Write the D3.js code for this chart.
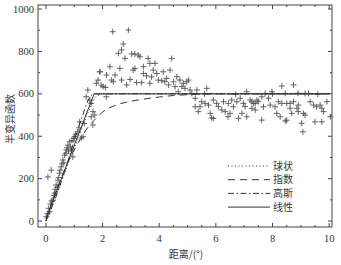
<!DOCTYPE html>
<html>
<head>
<meta charset="utf-8">
<script src="https://cdn.jsdelivr.net/npm/d3@7"></script>
<style>
  body { margin: 0; background: #fff; }
  svg text { fill: #333; }
</style>
</head>
<body>
<div id="chart"></div>
<script>
// observed semivariance (distance, value)
const points = [
  [0.01,20],[0.07,208],[0.19,240],[0.05,35],[0.1,60],[0.13,44],[0.16,80],[0.2,95],[0.25,99],[0.28,120],
  [0.3,132],[0.33,150],[0.36,170],[0.4,160],[0.42,193],[0.45,205],[0.48,226],[0.5,240],[0.54,256],[0.57,270],
  [0.6,288],[0.63,275],[0.66,311],[0.7,320],[0.72,335],[0.75,345],[0.78,358],[0.8,330],[0.84,374],[0.87,350],
  [0.9,335],[0.92,380],[0.95,303],[0.98,390],[1.01,398],[1.05,410],[1.13,421],[1.17,440],[1.19,468],[1.25,392],
  [1.31,398],[1.35,460],[1.42,586],[1.48,618],[1.55,570],[1.6,555],[1.6,492],[1.66,516],[1.66,453],[1.72,500],
  [1.78,650],[1.84,665],[1.9,704],[1.91,704],[1.95,641],[2.02,634],[2.1,630],[2.13,586],[2.14,689],[2.26,728],
  [2.32,665],[2.36,893],[2.38,657],[2.44,689],[2.56,791],[2.61,720],[2.67,807],[2.67,665],[2.73,835],[2.79,767],
  [2.85,642],[2.91,901],[2.97,668],[3.03,788],[3.08,712],[3.14,788],[3.14,720],[3.2,653],[3.26,783],[3.32,775],
  [3.38,653],[3.44,728],[3.44,696],[3.55,685],[3.61,767],[3.67,744],[3.67,650],[3.73,680],[3.79,712],[3.85,744],
  [3.91,696],[3.97,665],[4.09,662],[4.14,704],[4.2,657],[4.26,673],[4.33,642],[4.38,712],[4.44,767],[4.5,657],
  [4.56,634],[4.62,681],[4.67,610],[4.73,665],[4.8,634],[4.85,650],[4.91,626],[4.97,657],[5.03,665],[5.09,618],
  [5.15,602],[5.27,579],[5.27,539],[5.33,618],[5.38,516],[5.44,539],[5.5,563],[5.62,555],[5.68,626],[5.74,547],
  [5.8,508],[5.85,487],[5.91,571],[5.91,484],[6.03,555],[6.09,540],[6.21,524],[6.27,563],[6.33,516],[6.43,492],
  [6.44,555],[6.5,508],[6.56,571],[6.62,539],[6.74,563],[6.8,484],[6.86,579],[6.92,508],[6.97,555],[7.03,540],
  [7.09,610],[7.09,492],[7.21,571],[7.27,532],[7.27,563],[7.33,555],[7.39,555],[7.39,524],[7.45,571],[7.5,563],
  [7.62,586],[7.62,476],[7.68,539],[7.74,602],[7.86,579],[7.92,547],[7.98,610],[8.09,539],[8.15,508],[8.21,563],
  [8.27,492],[8.33,637],[8.33,555],[8.45,602],[8.45,472],[8.5,555],[8.5,476],[8.62,555],[8.62,532],[8.68,508],
  [8.74,642],[8.74,563],[8.86,532],[8.91,547],[8.91,516],[9.03,461],[9.07,421],[9.09,508],[9.15,500],[9.15,602],
  [9.27,602],[9.33,563],[9.45,547],[9.5,468],[9.56,539],[9.68,547],[9.74,532],[9.74,468],[9.8,516],[9.92,563],
  [10.04,492],[5.6,600],[6.7,598],[8.0,600],[8.9,603],[9.6,598]
];

// fitted models
const spherical = [[0,0],[0.5,170],[1,345],[1.5,515],[1.8,590],[2.1,600],[10,600]];
const exponential = [[0,0],[0.25,100],[0.5,190],[0.75,270],[1,335],[1.25,395],[1.5,445],[1.75,482],[2,514],
  [2.5,548],[3,565],[3.5,576],[4,585],[4.5,592],[5,596],[6,600],[10,600]];
const gaussian = [[0,0],[0.3,95],[0.7,250],[1,380],[1.3,500],[1.55,585],[1.7,600],[10,600]];
const linear = [[0,10],[1.7,600],[10,600]];

const models = [
  { name: "球状", data: spherical, dash: "1,2.5", curve: d3.curveMonotoneX },
  { name: "指数", data: exponential, dash: "7,5", curve: d3.curveMonotoneX },
  { name: "高斯", data: gaussian, dash: "6,2.5,1.5,2.5", curve: d3.curveMonotoneX },
  { name: "线性", data: linear, dash: null, curve: d3.curveLinear }
];

const xTicks = [0, 2, 4, 6, 8, 10];
const yTicks = [0, 200, 400, 600, 800, 1000];

const W = 341, H = 265;
const m = { left: 38, right: 332, top: 5, bottom: 227 };

const svg = d3.select("#chart").append("svg")
  .attr("width", W).attr("height", H);

const x = d3.scaleLinear().domain([-0.28, 10.1]).range([m.left, m.right]);
const y = d3.scaleLinear().domain([-28, 1019]).range([m.bottom, m.top]);

// frame
svg.append("rect")
  .attr("x", m.left).attr("y", m.top)
  .attr("width", m.right - m.left).attr("height", m.bottom - m.top)
  .attr("fill", "none").attr("stroke", "#444").attr("stroke-width", 1);

// inward ticks on all sides
const xMinor = d3.range(0, 10.01, 0.5);
const yMinor = d3.range(0, 1001, 100);
const tk = svg.append("g").attr("stroke", "#444").attr("stroke-width", 1);
xMinor.forEach(v => {
  const len = xTicks.includes(v) ? 4 : 2;
  tk.append("line").attr("x1", x(v)).attr("x2", x(v)).attr("y1", m.bottom).attr("y2", m.bottom - len);
  tk.append("line").attr("x1", x(v)).attr("x2", x(v)).attr("y1", m.top).attr("y2", m.top + len);
});
yMinor.forEach(v => {
  const len = yTicks.includes(v) ? 4 : 2;
  tk.append("line").attr("y1", y(v)).attr("y2", y(v)).attr("x1", m.left).attr("x2", m.left + len);
  tk.append("line").attr("y1", y(v)).attr("y2", y(v)).attr("x1", m.right).attr("x2", m.right - len);
});

// tick labels
svg.append("g").selectAll("text").data(xTicks).join("text")
  .attr("x", d => x(d)).attr("y", 242)
  .attr("text-anchor", "middle")
  .style("font", "10.5px 'Liberation Serif'")
  .text(d => d);
svg.append("g").selectAll("text").data(yTicks).join("text")
  .attr("x", 34).attr("y", d => y(d) + 3.5)
  .attr("text-anchor", "end")
  .style("font", "10.5px 'Liberation Serif'")
  .text(d => d);

// axis titles
svg.append("text")
  .attr("x", 186).attr("y", 258)
  .attr("text-anchor", "middle")
  .style("font", "10px 'Noto Sans CJK SC'")
  .text("距离/(°)");
svg.append("text")
  .attr("transform", "translate(14,119) rotate(-90)")
  .attr("text-anchor", "middle")
  .style("font", "10px 'Noto Sans CJK SC'")
  .text("半变异函数");

// observed points as plus marks
const sz = 3;
svg.append("g").selectAll("path").data(points).join("path")
  .attr("d", d => `M${x(d[0]) - sz},${y(d[1])}h${2 * sz}M${x(d[0])},${y(d[1]) - sz}v${2 * sz}`)
  .attr("stroke", "#555").attr("stroke-width", 0.9).attr("fill", "none");

// model curves
models.forEach(md => {
  const line = d3.line().x(d => x(d[0])).y(d => y(d[1])).curve(md.curve);
  svg.append("path")
    .datum(md.data)
    .attr("d", line)
    .attr("fill", "none")
    .attr("stroke", "#333")
    .attr("stroke-width", 1)
    .attr("stroke-dasharray", md.dash);
});

// legend
const lg = svg.append("g");
models.forEach((md, i) => {
  const ly = 166 + i * 13.7;
  lg.append("line")
    .attr("x1", 228).attr("x2", 270).attr("y1", ly).attr("y2", ly)
    .attr("stroke", "#333").attr("stroke-width", 1)
    .attr("stroke-dasharray", md.dash);
  lg.append("text")
    .attr("x", 273).attr("y", ly + 3.5)
    .style("font", "10px 'Noto Sans CJK SC'")
    .text(md.name);
});
</script>
</body>
</html>
